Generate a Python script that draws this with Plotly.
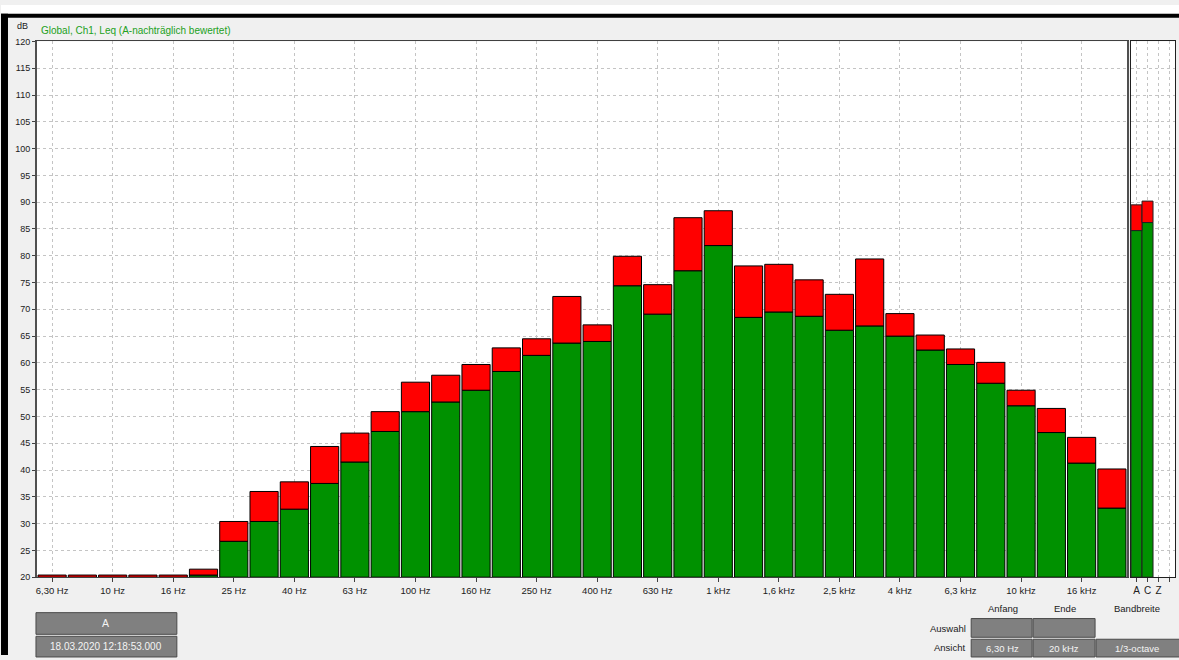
import plotly.graph_objects as go

W, H = 1179, 660

bands = ["6,3 Hz", "8 Hz", "10 Hz", "12,5 Hz", "16 Hz", "20 Hz", "25 Hz", "31,5 Hz", "40 Hz",
         "50 Hz", "63 Hz", "80 Hz", "100 Hz", "125 Hz", "160 Hz", "200 Hz", "250 Hz", "315 Hz",
         "400 Hz", "500 Hz", "630 Hz", "800 Hz", "1 kHz", "1,25 kHz", "1,6 kHz", "2 kHz",
         "2,5 kHz", "3,15 kHz", "4 kHz", "5 kHz", "6,3 kHz", "8 kHz", "10 kHz", "12,5 kHz",
         "16 kHz", "20 kHz"]
green_vals = [None, None, None, None, None, 20.4, 26.7, 30.4, 32.7, 37.5, 41.5, 47.2, 50.9,
              52.7, 54.9, 58.4, 61.4, 63.7, 64.0, 74.4, 69.1, 77.2, 81.9, 68.5, 69.5, 68.7,
              66.1, 66.9, 65.0, 62.4, 59.7, 56.2, 52.0, 47.0, 41.3, 32.9]
red_vals = [20.4, 20.4, 20.4, 20.4, 20.4, 21.5, 30.4, 36.0, 37.8, 44.4, 46.9, 50.9, 56.4,
            57.7, 59.7, 62.8, 64.5, 72.4, 67.1, 79.9, 74.6, 87.1, 88.4, 78.1, 78.4, 75.5,
            72.8, 79.4, 69.2, 65.2, 62.6, 60.1, 54.9, 51.5, 46.1, 40.2]
tick_bands = bands[::2]
tick_labels = ["6,30 Hz", "10 Hz", "16 Hz", "25 Hz", "40 Hz", "63 Hz", "100 Hz", "160 Hz",
               "250 Hz", "400 Hz", "630 Hz", "1 kHz", "1,6 kHz", "2,5 kHz", "4 kHz",
               "6,3 kHz", "10 kHz", "16 kHz"]

sum_cats = ["A", "C", "Z", " "]
sum_green = [84.7, 86.2, None, None]
sum_red = [89.5, 90.2, None, None]

y_min, y_max = 20, 120
y_ticks = list(range(20, 121, 5))

GREEN = "#009100"
RED = "#ff0000"
FONT = "Liberation Sans Narrow, Liberation Sans, Arial"


def X(px):
    return px / W


def Y(py):
    return 1 - py / H


def stack(g, r):
    gb, gy, rb, ry = [], [], [], []
    for gv, rv in zip(g, r):
        if gv is None:
            gb.append(y_min); gy.append(None)
            rb.append(y_min); ry.append(None if rv is None else rv - y_min)
        else:
            gb.append(y_min); gy.append(gv - y_min)
            rb.append(gv); ry.append(None if rv is None else rv - gv)
    return gb, gy, rb, ry


fig = go.Figure()
gb, gy, rb, ry = stack(green_vals, red_vals)
fig.add_trace(go.Bar(x=bands, y=gy, base=gb, marker=dict(color=GREEN, line=dict(color="black", width=1)),
                     xaxis="x", yaxis="y", showlegend=False))
fig.add_trace(go.Bar(x=bands, y=ry, base=rb, marker=dict(color=RED, line=dict(color="black", width=1)),
                     xaxis="x", yaxis="y", showlegend=False))
sgb, sgy, srb, sry = stack(sum_green, sum_red)
fig.add_trace(go.Bar(x=sum_cats, y=sgy, base=sgb, width=1,
                     marker=dict(color=GREEN, line=dict(color="#202020", width=1)),
                     xaxis="x2", yaxis="y2", showlegend=False))
fig.add_trace(go.Bar(x=sum_cats, y=sry, base=srb, width=1,
                     marker=dict(color=RED, line=dict(color="#202020", width=1)),
                     xaxis="x2", yaxis="y2", showlegend=False))

grid = dict(showgrid=True, gridcolor="#c4c4c4", griddash="dot", gridwidth=1)
fig.update_layout(
    width=W, height=H, margin=dict(l=0, r=0, t=0, b=0),
    paper_bgcolor="#f0f0f0", plot_bgcolor="white",
    barmode="overlay", bargap=0.07,
    font=dict(family=FONT, size=10, color="#202020"),
    xaxis=dict(domain=[X(36), X(1127)], type="category", categoryorder="array",
               categoryarray=bands, range=[-0.5, len(bands) - 0.5],
               tickmode="array", tickvals=tick_bands, ticktext=tick_labels,
               ticks="outside", ticklen=4, tickcolor="#404040",
               showline=True, linecolor="#404040", mirror=True, zeroline=False,
               tickfont=dict(size=9.5), **grid),
    yaxis=dict(domain=[Y(581), Y(37)], range=[y_min, y_max], tickmode="array", tickvals=y_ticks,
               ticks="outside", ticklen=3, tickcolor="#404040",
               showline=True, linecolor="#505050", linewidth=2, mirror=True, zeroline=False,
               tickfont=dict(size=9), **grid),
    xaxis2=dict(domain=[X(1131), X(1175)], type="category", categoryorder="array",
                categoryarray=sum_cats, range=[-0.5, 3.5], anchor="y2",
                tickmode="array", tickvals=sum_cats, ticktext=sum_cats,
                ticks="outside", ticklen=4, tickcolor="#404040",
                showline=True, linecolor="#202020", mirror=True, zeroline=False,
                tickfont=dict(size=10), **grid),
    yaxis2=dict(domain=[Y(581), Y(37)], range=[y_min, y_max], anchor="x2", tickmode="array",
                tickvals=y_ticks, showticklabels=False, ticks="",
                showline=True, linecolor="#202020", mirror=True, zeroline=False, **grid),
)

shapes = [
    dict(type="rect", xref="paper", yref="paper", x0=0, x1=1, y0=Y(9), y1=1,
         fillcolor="white", line=dict(width=0), layer="below"),
    dict(type="rect", xref="paper", yref="paper", x0=0, x1=1, y0=Y(13), y1=Y(9),
         fillcolor="black", line=dict(width=0)),
    dict(type="rect", xref="paper", yref="paper", x0=0, x1=X(7), y0=0, y1=Y(9),
         fillcolor="black", line=dict(width=0)),
]


def cell(x0, y0, x1, y1):
    shapes.append(dict(type="rect", xref="paper", yref="paper", x0=X(x0), x1=X(x1),
                       y0=Y(y1), y1=Y(y0), fillcolor="#808080",
                       line=dict(color="#4a4a4a", width=1)))


cell(35, 617, 176, 639)
cell(35, 641, 176, 662)
cell(971, 623, 1032, 642)
cell(1033, 623, 1095, 642)
cell(971, 644, 1032, 662)
cell(1033, 644, 1095, 662)
cell(1096, 644, 1181, 662)
fig.update_layout(shapes=shapes)

ann = []


def text(px, py, s, color="#202020", size=10, anchor="center"):
    ann.append(dict(xref="paper", yref="paper", x=X(px), y=Y(py), text=s, showarrow=False,
                    xanchor=anchor, yanchor="middle", font=dict(color=color, size=size, family=FONT)))


text(14, 21, "dB", size=9, anchor="left")
text(38, 26, "Global, Ch1, Leq (A-nachträglich bewertet)", color="#22a022", size=10, anchor="left")
text(105, 628, "A", color="#f4f4f4", size=10.5)
text(105, 651, "18.03.2020 12:18:53.000", color="#f4f4f4", size=10)
text(1003, 613, "Anfang", size=9.5)
text(1065, 613, "Ende", size=9.5)
text(1137, 613, "Bandbreite", size=9.5)
text(968, 633, "Auswahl", anchor="right", size=9.5)
text(968, 652, "Ansicht", anchor="right", size=9.5)
text(1002, 653, "6,30 Hz", color="#f4f4f4", size=9.5)
text(1064, 653, "20 kHz", color="#f4f4f4", size=9.5)
text(1137, 653, "1/3-octave", color="#f4f4f4", size=9.5)
fig.update_layout(annotations=ann)

fig.write_html("out.html", config={"displayModeBar": False},
               post_script="document.body.style.margin='0';document.body.style.overflow='hidden';")
